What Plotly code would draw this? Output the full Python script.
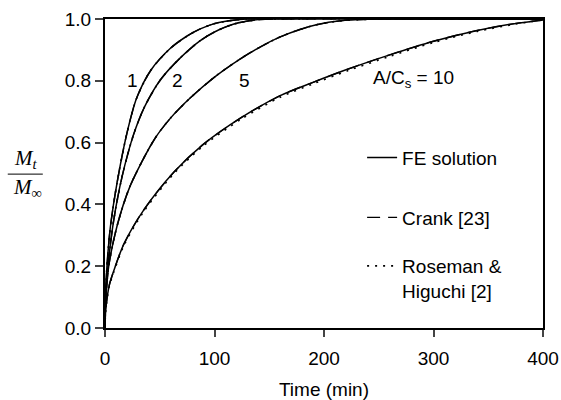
import plotly.graph_objects as go

# ---- data (time in min, Mt/Minf) ----
t_1 = [0, 0.25, 1, 2.5, 5, 11, 20, 29, 42, 60, 75, 87, 100, 115, 130, 400]
v_1 = [0, 0.075, 0.15, 0.235, 0.33, 0.47, 0.63, 0.745, 0.835, 0.906, 0.945, 0.968, 0.985, 0.995, 1.0, 1.0]

t_2 = [0, 0.25, 1, 3, 8, 15.6, 26, 36, 51, 69, 87, 100, 117, 140, 160, 400]
v_2 = [0, 0.06, 0.12, 0.21, 0.35, 0.49, 0.625, 0.715, 0.805, 0.875, 0.93, 0.958, 0.983, 0.998, 1.0, 1.0]

t_5 = [0, 0.5, 3.4, 11, 23, 45, 60, 78, 100, 124, 142, 160, 178, 194, 215, 240, 260, 400]
v_5 = [0, 0.08, 0.2, 0.33, 0.46, 0.61, 0.68, 0.745, 0.812, 0.872, 0.91, 0.942, 0.966, 0.982, 0.994, 0.999, 1.0, 1.0]

t_10 = [0, 0.5, 2, 4, 8, 17, 35, 63, 90, 124, 160, 190, 222, 260, 300, 340, 374, 400]
v_10 = [0, 0.05, 0.10, 0.14, 0.185, 0.27, 0.38, 0.505, 0.595, 0.68, 0.752, 0.795, 0.838, 0.884, 0.928, 0.963, 0.985, 0.997]
v_10_rh = [0, 0.048, 0.097, 0.137, 0.181, 0.265, 0.375, 0.5, 0.59, 0.675, 0.747, 0.79, 0.833, 0.879, 0.924, 0.96, 0.983, 0.997]

curves = [("1", t_1, v_1, v_1), ("2", t_2, v_2, v_2), ("5", t_5, v_5, v_5), ("10", t_10, v_10, v_10_rh)]
curve_labels = ["1", "2", "5", "A/C<sub>s</sub> = 10"]
label_t = [25, 66, 127, 282]
label_v = [0.80, 0.80, 0.80, 0.805]

x_ticks = [0, 100, 200, 300, 400]
y_ticks = [0.0, 0.2, 0.4, 0.6, 0.8, 1.0]

FONT = "Liberation Sans, Arial, sans-serif"
SERIF = "Liberation Serif, Times New Roman, serif"
FS = 19
fig = go.Figure()

for i, (name, t, v, vrh) in enumerate(curves):
    first = i == 0
    fig.add_trace(go.Scatter(x=t, y=vrh, mode="lines", name="Roseman &<br>Higuchi [2]",
                             legend="legend3", showlegend=first,
                             line=dict(color="black", width=1.6, dash="2px,6px", shape="spline", smoothing=0.8)))
    fig.add_trace(go.Scatter(x=t, y=v, mode="lines", name="Crank [23]",
                             legend="legend2", showlegend=first,
                             line=dict(color="black", width=1.4, dash="13px,8px", shape="spline", smoothing=0.8)))
    fig.add_trace(go.Scatter(x=t, y=v, mode="lines", name="FE solution",
                             legend="legend", showlegend=first,
                             line=dict(color="black", width=1.5, shape="spline", smoothing=0.8)))

for txt, lt, lv in zip(curve_labels, label_t, label_v):
    fig.add_annotation(x=lt, y=lv, text=txt, showarrow=False, xanchor="center", yanchor="middle",
                       font=dict(family=FONT, size=FS, color="black"))

# y-axis title as a fraction
fig.add_annotation(xref="paper", yref="paper", x=-0.18, y=0.548, text="<i>M<sub>t</sub></i>",
                   xanchor="center", yanchor="middle",
                   showarrow=False, font=dict(family=SERIF, size=21, color="black"))
fig.add_annotation(xref="paper", yref="paper", x=-0.178, y=0.452, text="<i>M</i><sub>∞</sub>",
                   xanchor="center", yanchor="middle",
                   showarrow=False, font=dict(family=SERIF, size=21, color="black"))
fig.add_shape(type="line", xref="paper", yref="paper", x0=-0.222, x1=-0.142, y0=0.498, y1=0.498,
              line=dict(color="black", width=1))

leg_common = dict(x=0.587, xanchor="left", yanchor="top", bgcolor="rgba(0,0,0,0)",
                  valign="top", font=dict(family=FONT, size=FS, color="black"))

fig.update_layout(
    width=561, height=400,
    margin=dict(l=105, r=18, t=19, b=72),
    paper_bgcolor="white", plot_bgcolor="white",
    font=dict(family=FONT, size=FS, color="black"),
    showlegend=True,
    legend=dict(y=0.613, **leg_common),
    legend2=dict(y=0.419, **leg_common),
    legend3=dict(y=0.262, **leg_common),
    xaxis=dict(range=[0, 400], tickvals=x_ticks, ticks="outside", ticklen=7, tickwidth=2,
               showline=True, linewidth=2, linecolor="black", mirror=True, showgrid=False, zeroline=False,
               automargin=False, ticklabelstandoff=5,
               title=dict(text="Time (min)", standoff=16, font=dict(size=FS))),
    yaxis=dict(range=[0, 1], tickvals=y_ticks, tickformat=".1f", ticks="outside", ticklen=8, tickwidth=2,
               showline=True, linewidth=2, linecolor="black", mirror=True, showgrid=False, zeroline=False,
               automargin=False),
)

fig.write_html("out.html")
